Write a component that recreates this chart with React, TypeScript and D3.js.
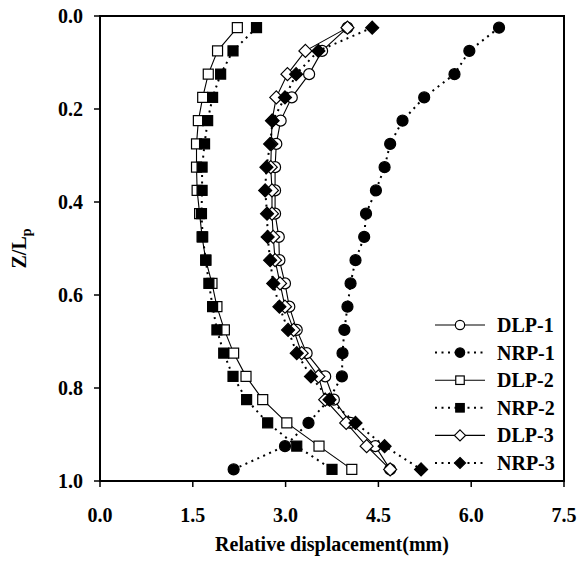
import React from 'react';
import * as d3 from 'd3';

const zLevels = [0.025, 0.075, 0.125, 0.175, 0.225, 0.275, 0.325, 0.375, 0.425, 0.475, 0.525, 0.575, 0.625, 0.675, 0.725, 0.775, 0.825, 0.875, 0.925, 0.975];
const dlp1 = [4.0, 3.59, 3.38, 3.1, 2.92, 2.85, 2.83, 2.83, 2.83, 2.89, 2.9, 2.99, 3.06, 3.18, 3.34, 3.64, 3.78, 4.05, 4.45, 4.69];
const nrp1 = [6.45, 5.97, 5.73, 5.24, 4.89, 4.69, 4.6, 4.46, 4.3, 4.27, 4.13, 4.05, 4.0, 3.95, 3.92, 3.91, 3.7, 3.37, 2.99, 2.16];
const dlp2 = [2.22, 1.9, 1.75, 1.66, 1.59, 1.56, 1.56, 1.57, 1.61, 1.65, 1.71, 1.81, 1.89, 2.01, 2.16, 2.36, 2.63, 3.02, 3.54, 4.07];
const nrp2 = [2.53, 2.15, 1.95, 1.82, 1.74, 1.69, 1.65, 1.65, 1.64, 1.66, 1.71, 1.76, 1.82, 1.89, 2.0, 2.15, 2.37, 2.71, 3.18, 3.75];
const dlp3 = [4.0, 3.32, 3.03, 2.85, 2.78, 2.77, 2.76, 2.78, 2.78, 2.8, 2.83, 2.91, 2.99, 3.13, 3.26, 3.53, 3.64, 3.98, 4.31, 4.69];
const nrp3 = [4.4, 3.53, 3.17, 2.99, 2.79, 2.75, 2.69, 2.67, 2.7, 2.71, 2.75, 2.8, 2.9, 3.04, 3.18, 3.41, 3.71, 4.13, 4.6, 5.19];

const seriesNames = ['DLP-1', 'NRP-1', 'DLP-2', 'NRP-2', 'DLP-3', 'NRP-3'];
const seriesValues = [dlp1, nrp1, dlp2, nrp2, dlp3, nrp3];
const seriesShapes = ['circle', 'circle', 'square', 'square', 'diamond', 'diamond'];
const seriesFilled = [false, true, false, true, false, true];
const seriesDotted = [false, true, false, true, false, true];

const xTicks = [0, 1.5, 3.0, 4.5, 6.0, 7.5];
const yTicks = [0, 0.2, 0.4, 0.6, 0.8, 1.0];

const FONT = "'Liberation Serif', 'Times New Roman', serif";

function Marker({ shape, filled, cx, cy, scale = 1 }: { shape: string; filled: boolean; cx: number; cy: number; scale?: number }) {
  const fill = filled ? '#000' : '#fff';
  const common = { fill, stroke: '#000', strokeWidth: 1.2 };
  if (shape === 'circle') {
    return <circle cx={cx} cy={cy} r={5.5 * scale} {...common} />;
  }
  if (shape === 'square') {
    const s = 10 * scale;
    return <rect x={cx - s / 2} y={cy - s / 2} width={s} height={s} {...common} />;
  }
  const h = 6.5 * scale;
  return <path d={`M${cx},${cy - h}L${cx + h},${cy}L${cx},${cy + h}L${cx - h},${cy}Z`} {...common} />;
}

export default function App() {
  const W = 577;
  const H = 565;
  const x = d3.scaleLinear().domain([0, 7.5]).range([100, 564]);
  const y = d3.scaleLinear().domain([0, 1]).range([16, 481]);
  const fmt = d3.format('.1f');
  const lineGen = d3
    .line<number>()
    .x((d) => x(d))
    .y((_d, i) => y(zLevels[i]));

  const legendX0 = 435;
  const legendX1 = 485;
  const legendY0 = 325;
  const legendStep = 27.6;

  return (
    <svg width={W} height={H} style={{ position: 'absolute', left: 0, top: 0, background: '#fff' }} fontFamily={FONT}>
      <rect x={0} y={0} width={W} height={H} fill="#fff" />
      {seriesValues.map((vals, si) => (
        <g key={seriesNames[si]}>
          <path
            d={lineGen(vals) || ''}
            fill="none"
            stroke="#000"
            strokeWidth={seriesDotted[si] ? 2 : 1.1}
            strokeDasharray={seriesDotted[si] ? '2 4.5' : undefined}
          />
          {vals.map((v, i) => (
            <Marker key={i} shape={seriesShapes[si]} filled={seriesFilled[si]} cx={x(v)} cy={y(zLevels[i])} />
          ))}
        </g>
      ))}
      {/* frame */}
      <rect x={x(0)} y={y(0)} width={x(7.5) - x(0)} height={y(1) - y(0)} fill="none" stroke="#000" strokeWidth={2} />
      {/* x ticks */}
      {xTicks.map((t) => (
        <g key={'x' + t}>
          <line x1={x(t)} x2={x(t)} y1={y(1)} y2={y(1) + 6} stroke="#000" strokeWidth={1.5} />
          <text x={x(t)} y={522} textAnchor="middle" fontSize={20} fontWeight="bold">
            {fmt(t)}
          </text>
        </g>
      ))}
      {/* y ticks */}
      {yTicks.map((t) => (
        <g key={'y' + t}>
          <line x1={x(0) - 6} x2={x(0)} y1={y(t)} y2={y(t)} stroke="#000" strokeWidth={1.5} />
          <text x={83} y={y(t)} dy="0.35em" textAnchor="end" fontSize={20} fontWeight="bold">
            {fmt(t)}
          </text>
        </g>
      ))}
      <text x={(x(0) + x(7.5)) / 2} y={551} textAnchor="middle" fontSize={20} fontWeight="bold">
        Relative displacement(mm)
      </text>
      <text transform={`translate(26,${(y(0) + y(1)) / 2}) rotate(-90)`} textAnchor="middle" fontSize={20} fontWeight="bold">
        Z/L<tspan fontSize={14} dy="5">p</tspan>
      </text>
      {/* legend */}
      {seriesNames.map((name, si) => {
        const ly = legendY0 + si * legendStep;
        return (
          <g key={'leg' + name}>
            <line
              x1={legendX0}
              x2={legendX1}
              y1={ly}
              y2={ly}
              stroke="#000"
              strokeWidth={seriesDotted[si] ? 2 : 1.1}
              strokeDasharray={seriesDotted[si] ? '2 4.5' : undefined}
            />
            <Marker shape={seriesShapes[si]} filled={seriesFilled[si]} cx={(legendX0 + legendX1) / 2} cy={ly} scale={0.85} />
            <text x={497} y={ly} dy="0.35em" fontSize={20} fontWeight="bold">
              {name}
            </text>
          </g>
        );
      })}
    </svg>
  );
}
